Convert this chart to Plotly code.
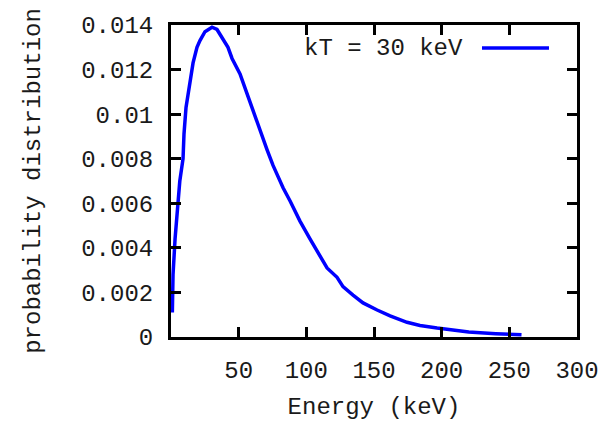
import plotly.graph_objects as go

# Data
energy = [1.0, 1.5, 3.0, 4.5, 6.5, 8.9, 9.6, 11.1, 14.0, 16.3, 19.2, 21.4, 25.1, 30.3,
          34.0, 37.7, 42.1, 45.1, 51.0, 56.9, 62.1, 65.8, 71.0, 75.4, 82.8, 88.0,
          95.3, 102.7, 110.1, 115.3, 122.7, 127.1, 134.5, 141.9, 152.3, 161.9,
          174.4, 184.0, 196.6, 208.4, 220.0, 240.0, 259.0]
prob = [0.0011, 0.0028, 0.0044, 0.0057, 0.0070, 0.0080, 0.0091, 0.0103, 0.0114, 0.0123,
        0.0130, 0.0133, 0.0137, 0.0139, 0.0138, 0.0134, 0.0130, 0.0125, 0.0118, 0.0108,
        0.0099, 0.0092, 0.0084, 0.0077, 0.0067, 0.0061, 0.0052, 0.0044, 0.0036, 0.0031,
        0.00268, 0.00226, 0.00188, 0.00153, 0.00121, 0.00095, 0.00066, 0.00052,
        0.00040, 0.00030, 0.00022, 0.00015, 0.00010]
series_name = "kT = 30 keV"

x_ticks = [50, 100, 150, 200, 250, 300]
x_labels = ["50", "100", "150", "200", "250", "300"]
y_ticks = [0, 0.002, 0.004, 0.006, 0.008, 0.01, 0.012, 0.014]
y_labels = ["0", "0.002", "0.004", "0.006", "0.008", "0.01", "0.012", "0.014"]

FONT = "Liberation Mono"
TXT = "#1a1a1a"

fig = go.Figure()
fig.add_trace(go.Scatter(x=energy, y=prob, mode="lines", name=series_name,
                         line=dict(color="#0000ff", width=3.5), showlegend=False))

axis_common = dict(showline=True, linewidth=3, linecolor="black", mirror="ticks",
                   ticks="inside", ticklen=10, tickwidth=3, tickcolor="black",
                   showgrid=False, zeroline=False,
                   tickfont=dict(family=FONT, size=24, color=TXT))

fig.update_xaxes(range=[0, 300], tickvals=x_ticks, ticktext=x_labels,
                 title=dict(text="Energy (keV)", font=dict(family=FONT, size=24, color=TXT), standoff=14),
                 ticklabelstandoff=9, **axis_common)
fig.update_yaxes(range=[0, 0.014], tickvals=y_ticks, ticktext=y_labels,
                 title=dict(text="probability distribution", font=dict(family=FONT, size=24, color=TXT), standoff=34),
                 ticklabelstandoff=10, **axis_common)

# gnuplot-style key: text then line sample
fig.add_annotation(xref="paper", yref="paper", x=0.724, y=0.926, text=series_name,
                   showarrow=False, xanchor="right", yanchor="middle",
                   font=dict(family=FONT, size=24, color=TXT))
fig.add_shape(type="line", xref="paper", yref="paper", x0=0.766, x1=0.931, y0=0.926, y1=0.926,
              line=dict(color="#0000ff", width=3.5))

fig.update_layout(width=612, height=427, margin=dict(l=171, r=35, t=25, b=90),
                  paper_bgcolor="white", plot_bgcolor="white",
                  font=dict(family=FONT, size=24, color=TXT))

fig.write_html("out.html")
